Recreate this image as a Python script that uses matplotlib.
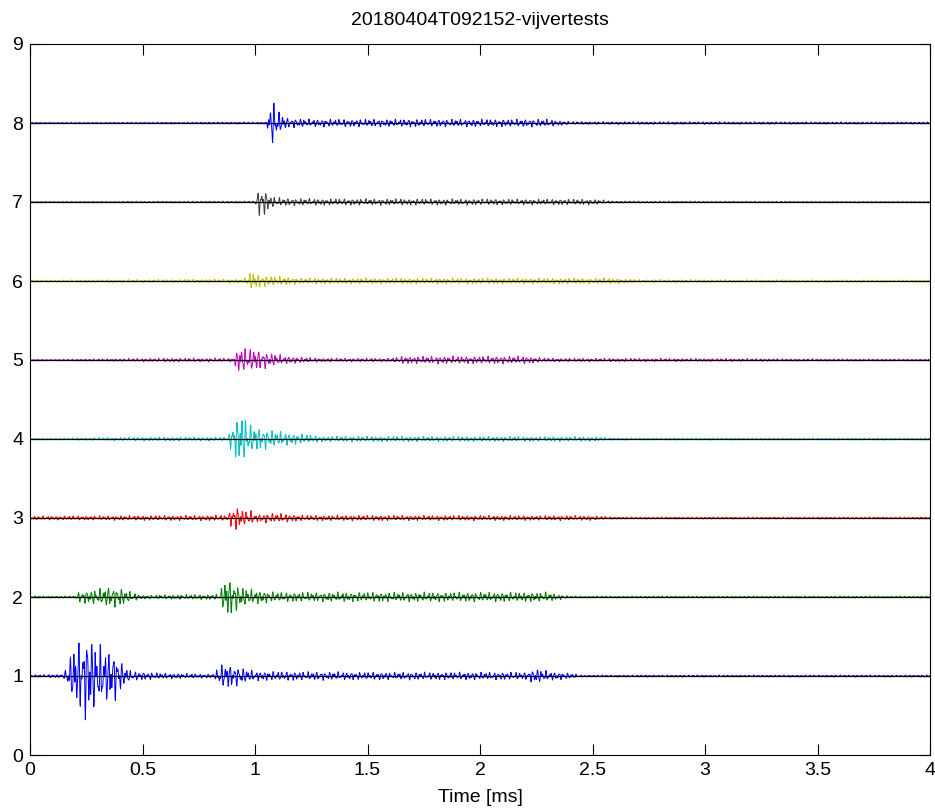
import numpy as np
import matplotlib
matplotlib.use("Agg")
import matplotlib.pyplot as plt

plt.rcParams['font.family'] = ['Liberation Sans', 'DejaVu Sans']

title = "20180404T092152-vijvertests"
xlabel = "Time [ms]"
x_ticks = [0, 0.5, 1, 1.5, 2, 2.5, 3, 3.5, 4]
x_ticklabels = ["0", "0.5", "1", "1.5", "2", "2.5", "3", "3.5", "4"]
y_ticks = [0, 1, 2, 3, 4, 5, 6, 7, 8, 9]

channel_levels = [1, 2, 3, 4, 5, 6, 7, 8]
channel_colors = [(0, 0, 1), (0, 0.5, 0), (1, 0, 0), (0, 0.75, 0.75),
                  (0.75, 0, 0.75), (0.75, 0.75, 0), (0.25, 0.25, 0.25), (0, 0, 1)]

# Amplitude envelopes (knot times in ms, amplitudes in trace units)
env_t1 = [0, 0.15, 0.17, 0.2, 0.23, 0.26, 0.29, 0.33, 0.38, 0.42, 0.45, 0.6, 0.82, 0.84, 0.88, 0.95, 1.0, 1.5, 2.2, 2.25, 2.3, 2.4, 2.45, 4.0]
env_a1 = [0.01, 0.02, 0.15, 0.35, 0.4, 0.48, 0.35, 0.3, 0.25, 0.1, 0.05, 0.03, 0.02, 0.12, 0.13, 0.08, 0.05, 0.04, 0.04, 0.08, 0.05, 0.03, 0.01, 0.01]
env_t2 = [0, 0.2, 0.22, 0.3, 0.35, 0.4, 0.45, 0.5, 0.84, 0.87, 0.89, 0.93, 0.98, 1.1, 2.3, 2.35, 2.4, 4.0]
env_a2 = [0.01, 0.01, 0.06, 0.08, 0.11, 0.1, 0.05, 0.02, 0.03, 0.22, 0.2, 0.12, 0.08, 0.05, 0.05, 0.03, 0.01, 0.01]
env_t3 = [0, 0.88, 0.9, 0.92, 0.95, 0.98, 1.0, 1.05, 1.12, 1.2, 2.5, 2.6, 4.0]
env_a3 = [0.02, 0.03, 0.13, 0.13, 0.08, 0.08, 0.04, 0.05, 0.05, 0.03, 0.025, 0.01, 0.01]
env_t4 = [0, 0.5, 0.88, 0.9, 0.94, 0.98, 1.05, 1.17, 1.3, 2.5, 2.6, 4.0]
env_a4 = [0.005, 0.02, 0.02, 0.18, 0.28, 0.15, 0.1, 0.06, 0.03, 0.025, 0.01, 0.01]
env_t5 = [0, 0.6, 0.9, 0.93, 0.96, 1.0, 1.02, 1.08, 1.14, 1.3, 1.6, 1.65, 2.2, 2.3, 4.0]
env_a5 = [0.005, 0.02, 0.02, 0.15, 0.12, 0.12, 0.1, 0.07, 0.04, 0.02, 0.02, 0.04, 0.04, 0.02, 0.01]
env_t6 = [0, 0.95, 0.98, 1.0, 1.03, 1.1, 1.2, 2.6, 2.7, 4.0]
env_a6 = [0.01, 0.02, 0.1, 0.09, 0.06, 0.05, 0.03, 0.03, 0.015, 0.01]
env_t7 = [0, 1.0, 1.02, 1.04, 1.07, 1.12, 1.3, 2.5, 2.6, 4.0]
env_a7 = [0.005, 0.01, 0.16, 0.15, 0.06, 0.04, 0.035, 0.03, 0.01, 0.005]
env_t8 = [0, 1.05, 1.075, 1.09, 1.11, 1.15, 1.25, 2.3, 2.4, 4.0]
env_a8 = [0.005, 0.01, 0.25, 0.22, 0.1, 0.05, 0.04, 0.04, 0.015, 0.01]

env_times = [env_t1, env_t2, env_t3, env_t4, env_t5, env_t6, env_t7, env_t8]
env_amps = [env_a1, env_a2, env_a3, env_a4, env_a5, env_a6, env_a7, env_a8]

t = np.arange(0, 4.0, 0.0015)

fig = plt.figure(figsize=(9.35, 8.09), dpi=100)
ax = fig.add_axes([30 / 935, 1 - 755 / 809, 900 / 935, 711 / 809])

for i, (lvl, col, et, ea) in enumerate(zip(channel_levels, channel_colors, env_times, env_amps)):
    env = np.interp(t, et, ea)
    ph = 0.7 * i
    carrier = (np.sin(2 * np.pi * 52.0 * t + ph)
               + 0.7 * np.sin(2 * np.pi * 83.3 * t + 1.3 + ph)
               + 0.5 * np.sin(2 * np.pi * 127.7 * t + 2.1 + 2 * ph)) / 1.7
    ax.plot(t, lvl + env * carrier, color=col, lw=0.7, zorder=2)
    ax.axhline(lvl, color='black', lw=0.9, zorder=3)

ax.set_xlim(0, 4)
ax.set_ylim(0, 9)
ax.set_xticks(x_ticks)
ax.set_xticklabels(x_ticklabels)
ax.set_yticks(y_ticks)
ax.tick_params(direction='in', length=8, width=0.8, labelsize=14, top=True, right=True, pad=5)
for s in ax.spines.values():
    s.set_linewidth(0.8)
ax.set_title(title, fontsize=14, pad=14)
ax.set_xlabel(xlabel, fontsize=14, labelpad=7)

fig.savefig("out.png", dpi=100)
